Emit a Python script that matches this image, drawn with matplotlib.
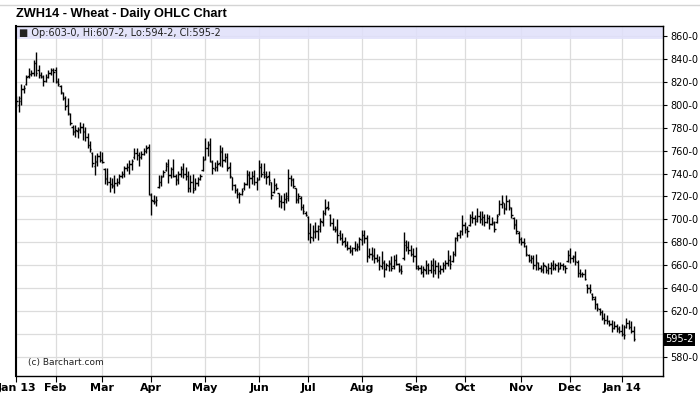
import matplotlib
matplotlib.use("Agg")
import matplotlib.pyplot as plt
from matplotlib.patches import Rectangle
from matplotlib.lines import Line2D
import numpy as np
import pandas as pd

# CBOT holidays inside the range
holidays = ["2013-01-21", "2013-02-18", "2013-03-29", "2013-05-27", "2013-07-04",
            "2013-09-02", "2013-11-28", "2013-12-25", "2014-01-01"]
month_labels = ["Jan 13", "Feb", "Mar", "Apr", "May", "Jun", "Jul", "Aug",
                "Sep", "Oct", "Nov", "Dec", "Jan 14"]

highs = [808, 808, 818, 817, 826, 832, 830, 839, 846, 835,
         829, 826, 827, 830, 832, 832, 833, 823, 817, 811,
         808, 806, 793, 782, 782, 781, 785, 784, 781, 775,
         768, 759, 756, 758, 760, 759, 745, 745, 737, 736,
         739, 736, 740, 742, 747, 749, 752, 753, 762, 762,
         759, 760, 762, 765, 766, 723, 721, 720, 739, 739,
         743, 750, 753, 746, 753, 740, 742, 747, 749, 746,
         742, 739, 740, 736, 737, 740, 755, 771, 768, 771,
         752, 750, 752, 765, 763, 758, 758, 750, 737, 731,
         727, 724, 727, 733, 743, 742, 742, 743, 737, 752,
         749, 749, 742, 742, 733, 736, 732, 723, 721, 723,
         724, 744, 739, 736, 727, 723, 720, 713, 707, 703,
         697, 695, 698, 695, 701, 708, 718, 716, 705, 701,
         694, 700, 691, 688, 685, 681, 678, 676, 681, 679,
         685, 691, 691, 686, 675, 676, 675, 670, 668, 672,
         665, 662, 665, 668, 669, 670, 662, 660, 689, 682,
         681, 678, 675, 676, 660, 660, 659, 665, 662, 665,
         666, 665, 663, 660, 663, 665, 673, 669, 672, 685,
         689, 691, 704, 698, 694, 705, 707, 704, 710, 707,
         707, 705, 705, 704, 702, 699, 705, 717, 721, 714,
         721, 718, 711, 702, 700, 690, 685, 684, 678, 670,
         669, 669, 670, 663, 660, 663, 659, 662, 663, 665,
         662, 663, 663, 662, 660, 673, 675, 669, 672, 665,
         657, 654, 657, 644, 644, 636, 633, 627, 623, 621,
         618, 617, 612, 612, 611, 609, 607, 609, 608, 614,
         612, 611, 607.25]

lows = [798, 794, 800, 810, 817, 823, 825, 825, 825, 823,
        823, 816, 820, 823, 826, 820, 819, 816, 809, 804,
        795, 791, 782, 774, 772, 771, 775, 769, 768, 762,
        759, 746, 739, 747, 750, 749, 731, 730, 724, 727,
        723, 729, 731, 736, 737, 742, 740, 743, 753, 752,
        747, 753, 756, 758, 721, 704, 713, 712, 727, 729,
        737, 742, 732, 736, 737, 730, 731, 737, 736, 734,
        724, 724, 723, 726, 729, 734, 742, 752, 755, 750,
        740, 742, 742, 747, 746, 750, 742, 736, 726, 723,
        719, 714, 721, 726, 730, 727, 731, 730, 726, 734,
        737, 736, 731, 730, 718, 723, 726, 711, 710, 708,
        714, 716, 729, 727, 714, 714, 708, 705, 703, 682,
        679, 681, 684, 682, 689, 694, 704, 708, 694, 691,
        689, 679, 682, 678, 676, 673, 671, 669, 672, 672,
        673, 678, 679, 663, 666, 665, 662, 663, 656, 657,
        650, 656, 655, 655, 657, 660, 654, 652, 665, 672,
        670, 668, 663, 657, 656, 652, 650, 652, 652, 653,
        650, 652, 649, 652, 654, 657, 659, 657, 663, 668,
        681, 684, 686, 688, 685, 694, 697, 695, 698, 697,
        695, 694, 697, 692, 695, 689, 697, 704, 710, 705,
        708, 708, 701, 692, 687, 679, 678, 676, 668, 663,
        662, 657, 656, 656, 654, 653, 653, 652, 652, 656,
        656, 654, 657, 656, 653, 663, 662, 663, 660, 650,
        650, 650, 647, 636, 636, 630, 622, 620, 617, 612,
        609, 609, 607, 602, 604, 602, 601, 598, 596, 605,
        604, 601, 594.25]

opens = [805, 800, 803, 814, 818, 825, 827, 828, 836, 830,
         826, 824, 821, 824, 828, 830, 830, 820, 816, 810,
         806, 800, 792, 781, 776, 777, 778, 781, 777, 772,
         765, 758, 747, 750, 755, 752, 744, 736, 733, 731,
         729, 732, 733, 738, 740, 745, 746, 748, 754, 758,
         756, 754, 757, 760, 763, 721, 716, 715, 728, 733,
         738, 743, 748, 739, 744, 738, 734, 740, 744, 740,
         738, 727, 733, 727, 732, 735, 743, 753, 762, 766,
         750, 744, 746, 749, 760, 752, 754, 746, 737, 730,
         726, 722, 722, 727, 731, 740, 736, 738, 733, 735,
         746, 741, 740, 738, 733, 724, 730, 723, 716, 715,
         718, 719, 736, 734, 727, 717, 719, 711, 706, 702,
         688, 684, 689, 690, 692, 698, 706, 711, 704, 697,
         692, 692, 688, 684, 681, 678, 675, 672, 675, 674,
         676, 682, 686, 684, 668, 670, 669, 666, 665, 659,
         662, 657, 659, 662, 659, 665, 661, 657, 666, 680,
         676, 673, 670, 668, 659, 658, 654, 656, 660, 656,
         660, 656, 659, 655, 657, 660, 662, 665, 664, 670,
         684, 686, 690, 695, 692, 695, 702, 701, 699, 703,
         700, 702, 698, 701, 696, 697, 698, 705, 713, 714,
         710, 716, 710, 701, 696, 688, 683, 680, 677, 669,
         665, 666, 660, 662, 658, 656, 659, 656, 658, 660,
         658, 660, 658, 660, 659, 664, 669, 666, 668, 663,
         653, 652, 652, 643, 640, 635, 631, 626, 622, 619,
         614, 612, 611, 609, 605, 607, 605, 603, 600, 606,
         610, 606, 603]

closes = [803, 806, 814, 815, 824, 827, 828, 836, 828, 826,
          825, 821, 824, 828, 830, 829, 821, 818, 811, 806,
          799, 793, 784, 777, 778, 779, 781, 776, 772, 765,
          761, 749, 751, 755, 752, 750, 735, 733, 731, 730,
          732, 733, 738, 740, 745, 746, 748, 751, 758, 756,
          754, 757, 760, 762, 722, 717, 716, 717, 733, 737,
          741, 747, 739, 744, 738, 735, 740, 744, 740, 738,
          727, 733, 726, 732, 735, 738, 752, 762, 765, 751,
          745, 746, 748, 759, 752, 754, 745, 738, 730, 726,
          722, 722, 725, 731, 739, 736, 738, 733, 734, 746,
          740, 738, 737, 734, 721, 730, 727, 716, 715, 718,
          720, 736, 735, 729, 718, 720, 711, 707, 704, 688,
          685, 690, 690, 694, 699, 706, 710, 710, 697, 692,
          691, 686, 684, 680, 678, 675, 673, 675, 674, 677,
          683, 686, 684, 668, 670, 668, 666, 665, 660, 663,
          657, 660, 661, 658, 665, 661, 656, 655, 678, 676,
          673, 670, 668, 658, 658, 654, 657, 660, 656, 660,
          656, 659, 655, 657, 660, 662, 665, 661, 670, 684,
          686, 690, 695, 692, 690, 702, 701, 700, 703, 700,
          702, 698, 701, 696, 698, 692, 703, 713, 715, 709,
          716, 711, 704, 695, 690, 683, 680, 679, 670, 665,
          666, 660, 663, 658, 657, 660, 656, 658, 660, 658,
          660, 657, 660, 659, 658, 669, 666, 667, 664, 653,
          652, 652, 648, 640, 638, 632, 626, 623, 619, 614,
          612, 611, 609, 605, 607, 604, 603, 600, 599, 610,
          606, 603, 595.25]

header = "\u25a0 Op:603-0, Hi:607-2, Lo:594-2, Cl:595-2"
last_label = "595-2"

dates = pd.bdate_range("2013-01-09", "2014-01-09")
dates = dates[~dates.isin(pd.to_datetime(holidays))]
x = np.arange(len(dates))
per = dates.to_period("M")
month_idx = np.r_[0, np.where(per[1:] != per[:-1])[0] + 1]

W, H = 700, 397
fig = plt.figure(figsize=(W / 100, H / 100), dpi=100)
L, R, T, B = 16, 663, 26, 376
ax = fig.add_axes([L / W, 1 - B / H, (R - L) / W, (B - T) / H])

# OHLC bars
ax.vlines(x, lows, highs, color="black", lw=1.0, zorder=3)
ax.hlines(opens, x - 0.55, x, color="black", lw=1.0, zorder=3)
ax.hlines(closes, x, x + 0.55, color="black", lw=1.0, zorder=3)

ax.set_xlim(-0.2, 263.9)
ax.set_ylim(563.4, 868.7)

# grid
yt = list(range(580, 861, 20))
ax.set_yticks(yt)
ax.set_yticklabels(["" if v == 600 else f"{v}-0" for v in yt])
ax.set_xticks(month_idx)
ax.set_xticklabels(month_labels)
ax.grid(True, color="#dcdcdc", lw=0.9, zorder=0)
ax.set_axisbelow(True)

# header band
ax.add_patch(Rectangle((0, 1 - 13 / 350), 1, 13 / 350, transform=ax.transAxes,
                       facecolor="#e0e0fa", edgecolor="none", alpha=0.85, zorder=1))
ax.text(0.004, 1 - 6.5 / 350, header, transform=ax.transAxes, va="center",
        ha="left", fontsize=7, color="#222222", zorder=4)

ax.yaxis.tick_right()
ax.tick_params(axis="y", direction="out", length=3, pad=2, labelsize=7, colors="black")
ax.tick_params(axis="x", direction="out", length=4, pad=1)
for lab in ax.get_xticklabels():
    lab.set_fontfamily(["Liberation Sans Narrow", "DejaVu Sans"])
    lab.set_fontweight("bold")
    lab.set_fontsize(8)

for s in ax.spines.values():
    s.set_color("black")
    s.set_linewidth(1.0)
ax.spines["left"].set_linewidth(1.5)

# last price box
ax.text(1.003, 595.25, last_label, transform=ax.get_yaxis_transform(),
        va="center", ha="left", fontsize=7, color="white", clip_on=False,
        bbox=dict(boxstyle="square,pad=0.15", fc="black", ec="none"))

ax.text((28 - L) / (R - L), (B - 363) / (B - T), "(c) Barchart.com",
        transform=ax.transAxes, fontsize=6.5, color="#222222", va="center")

fig.text(L / W, 1 - 14 / H, "ZWH14 - Wheat - Daily OHLC Chart", fontsize=9.2,
         fontweight="bold", family=["Liberation Sans", "DejaVu Sans"], va="center")
fig.add_artist(Line2D([0, 1], [1 - 4.5 / H] * 2, color="#d4d4d4", lw=1))

fig.savefig("out.png", dpi=100)
